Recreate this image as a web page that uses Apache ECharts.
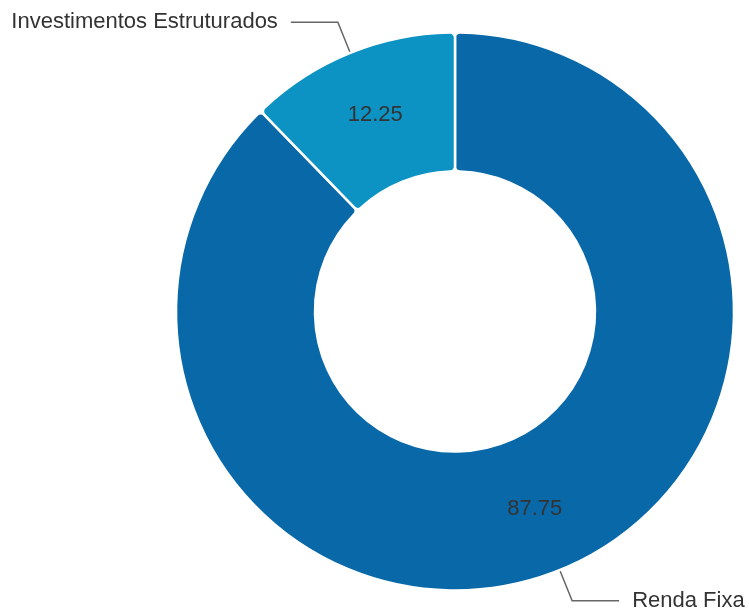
<!DOCTYPE html>
<html>
<head>
<meta charset="utf-8">
<script src="https://cdn.jsdelivr.net/npm/echarts@6/dist/echarts.min.js"></script>
<style>
html,body{margin:0;padding:0;background:#fff;}
#main{width:749px;height:612px;}
</style>
</head>
<body>
<div id="main"></div>
<script>
const categories = ['Renda Fixa', 'Investimentos Estruturados'];
const values = [87.75, 12.25];
const colors = ['#0868a8', '#0c93c4'];

const data = categories.map((c, i) => ({ name: c, value: values[i], itemStyle: { color: colors[i] } }));
const chart = echarts.init(document.getElementById('main'));
const center = ['455', '311.5'];
const radius = [140, 279];
const font = 'Liberation Sans, Arial, sans-serif';
chart.setOption({
  animation: false,
  series: [
    {
      type: 'pie',
      center: center,
      radius: radius,
      startAngle: 90,
      itemStyle: { borderColor: '#fff', borderWidth: 2.5, borderRadius: 5 },
      label: { show: true, position: 'inside', formatter: '{c}', color: '#333', fontSize: 22, fontFamily: font },
      labelLine: { show: false },
      data: data
    },
    {
      type: 'pie',
      silent: true,
      center: center,
      radius: radius,
      startAngle: 90,
      itemStyle: { color: 'transparent', borderWidth: 0 },
      label: { show: true, position: 'outside', formatter: '{b}', color: '#333', fontSize: 22, fontFamily: font, distanceToLabelLine: 13, overflow: 'none', bleedMargin: 0 },
      labelLine: { show: true, length: 33, length2: 47, lineStyle: { color: '#666', width: 1.5 } },
      data: categories.map((c, i) => ({ name: c, value: values[i], itemStyle: { color: 'transparent' } }))
    }
  ]
});
</script>
</body>
</html>
